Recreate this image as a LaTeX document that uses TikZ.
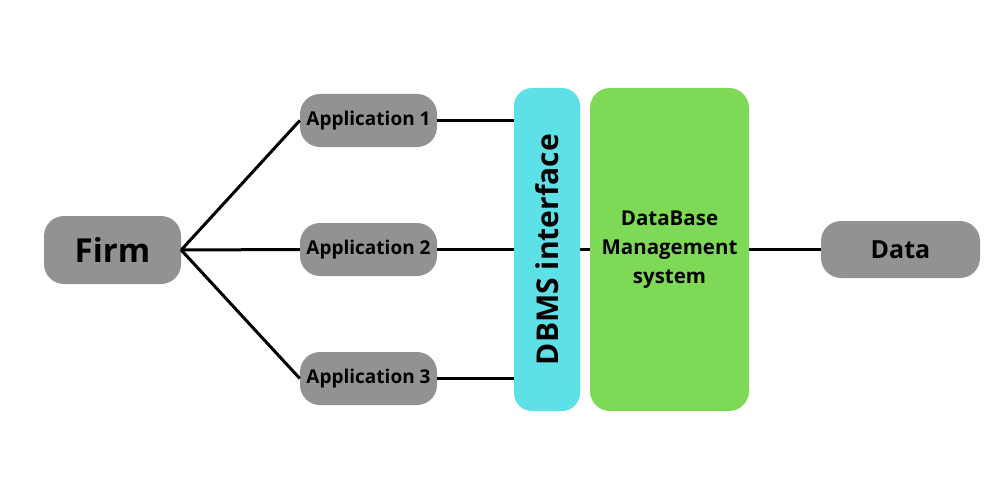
\documentclass[tikz,border=0pt]{standalone}
\usepackage{fontspec}
\setmainfont{Open Sans}
\definecolor{boxgray}{HTML}{929292}
\definecolor{dbcyan}{HTML}{5DE1E6}
\definecolor{dbgreen}{HTML}{7ED957}
\begin{document}
\begin{tikzpicture}[x=1pt,y=-1pt,
  graybox/.style={fill=boxgray,rounded corners=20pt,inner sep=0pt,font=\bfseries},
  appbox/.style={graybox,minimum width=137pt,minimum height=53pt,font=\bfseries\fontsize{19}{22}\selectfont},
  conn/.style={line width=3pt,black}]
\useasboundingbox (0,0) rectangle (1000,500);
\node[graybox,minimum width=137pt,minimum height=68pt,font=\bfseries\fontsize{33}{38}\selectfont] (firm) at (112.5,250) {Firm};
\node[appbox] (app1) at (368.5,120.5) {Application 1};
\node[appbox] (app2) at (368.5,249.5) {Application 2};
\node[appbox] (app3) at (368.5,378.5) {Application 3};
\node[fill=dbcyan,rounded corners=18pt,minimum width=66pt,minimum height=323pt,inner sep=0pt] (dbi) at (547,249.5) {};
\node[rotate=90,font=\bfseries\fontsize{30}{34}\selectfont] (dbitext) at (dbi.center) {DBMS interface};
\node[fill=dbgreen,rounded corners=20pt,minimum width=159pt,minimum height=323pt,inner sep=0pt,align=center,font=\bfseries\fontsize{20.5}{29}\selectfont] (dbm) at (669.5,249.5) {DataBase\\Management\\system};
\node[graybox,minimum width=159pt,minimum height=57pt,font=\bfseries\fontsize{25}{30}\selectfont] (data) at (900.5,249.5) {Data};
\draw[conn] (firm.east) -- (app1.west);
\draw[conn] (firm.east) -- (app2.west);
\draw[conn] (firm.east) -- (app3.west);
\draw[conn] (app1.east) -- (app1.east -| dbi.west);
\draw[conn] (app2.east) -- (app2.east -| dbi.west);
\draw[conn] (app3.east) -- (app3.east -| dbi.west);
\draw[conn] (dbi.east) -- (dbm.west);
\draw[conn] (dbm.east) -- (data.west);
\end{tikzpicture}
\end{document}
